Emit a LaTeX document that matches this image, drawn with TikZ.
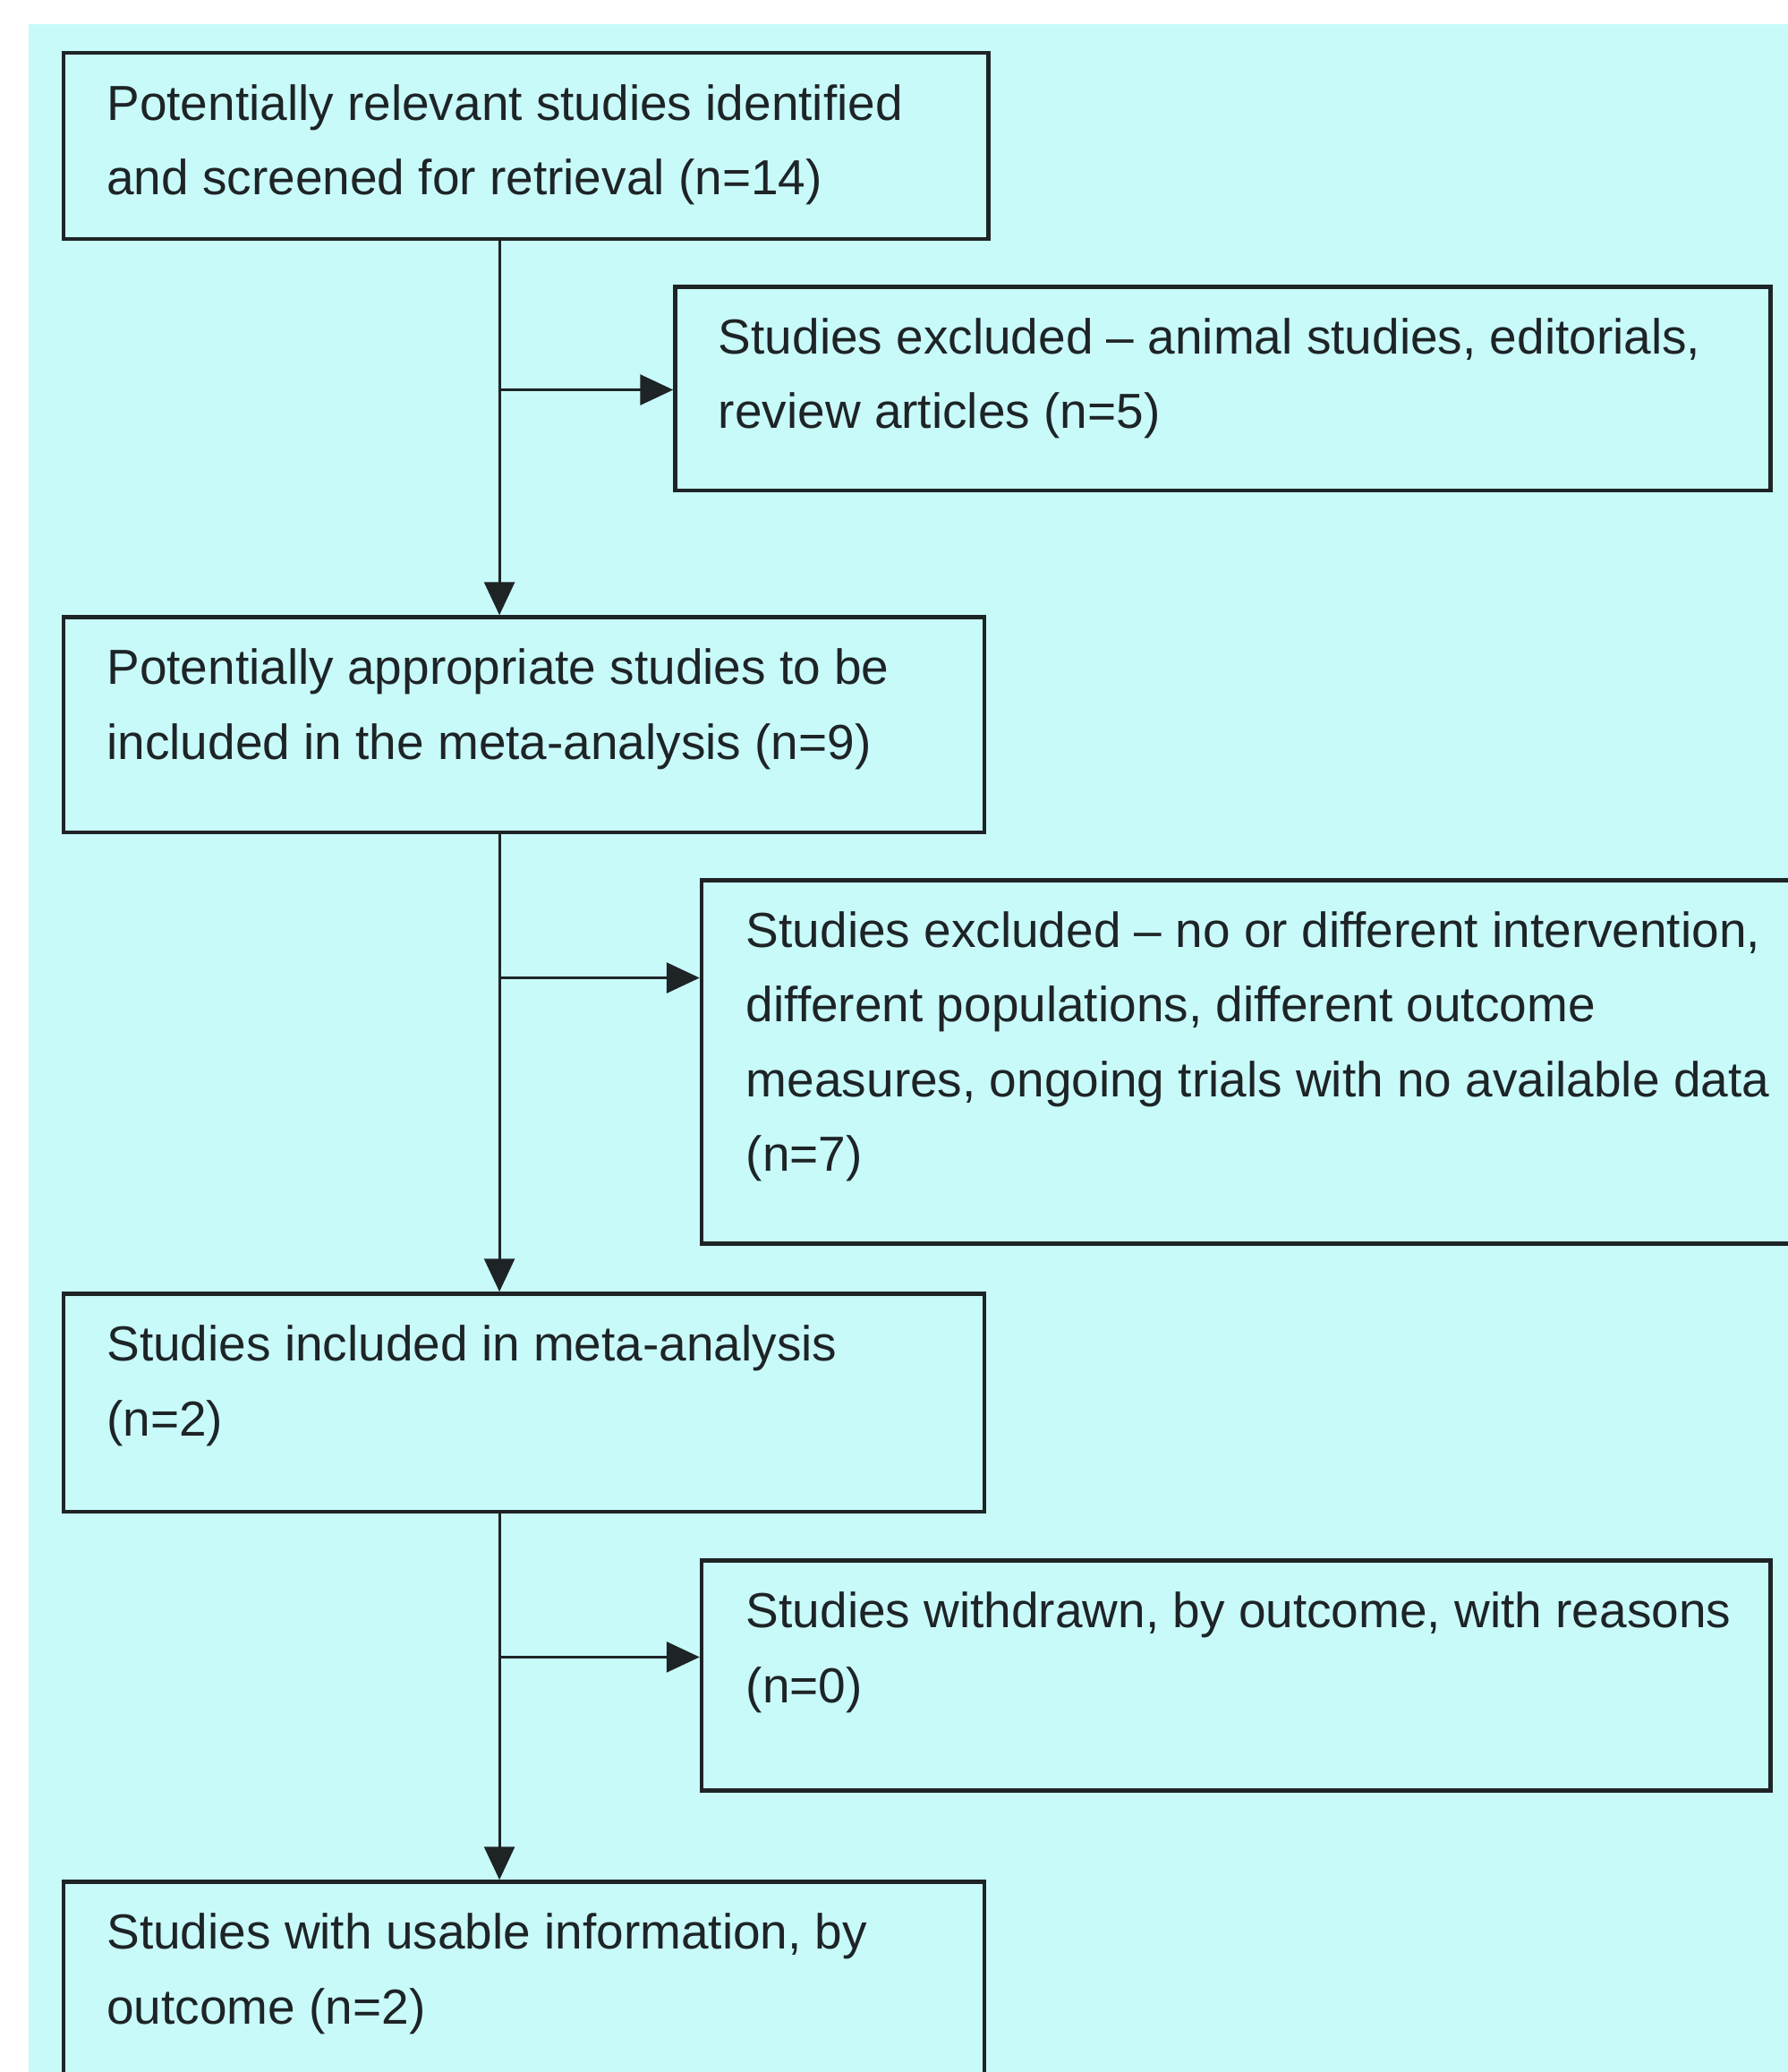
\documentclass[tikz,border=0pt]{standalone}
\usepackage{fontspec}
\setmainfont{Liberation Sans}
\usetikzlibrary{arrows.meta,fit}
\definecolor{bgcyan}{RGB}{200,250,250}
\definecolor{ink}{RGB}{30,36,38}

\begin{document}
\begin{tikzpicture}[x=0.02cm,y=-0.02cm,
  box/.style={draw=ink,line width=1.7pt,inner sep=0pt},
  txt/.style={anchor=north west,inner sep=0pt,align=left,text=ink,
    font=\fontsize{21.2}{32.2}\selectfont},
  flow/.style={draw=ink,line width=1.1pt,-{Triangle[length=0.5cm,width=0.46cm]}}]
  \useasboundingbox (0,0) rectangle (1353,1568);
  \fill[bgcyan] (22,18) rectangle (1400,1600);
  % boxes
  \node[box,fit={(48,40) (748,181)}] (found) {};
  \node[txt] (found-t) at ([shift={(34,25)}]found.north west)
    {Potentially relevant studies identified\\and screened for retrieval (n=14)};
  \node[box,fit={(511,217) (1340,371)}] (excl1) {};
  \node[txt] (excl1-t) at ([shift={(34,25)}]excl1.north west)
    {Studies excluded -- animal studies, editorials,\\review articles (n=5)};
  \node[box,fit={(48,467) (745,630)}] (elig) {};
  \node[txt] (elig-t) at ([shift={(34,25)}]elig.north west)
    {Potentially appropriate studies to be\\included in the meta-analysis (n=9)};
  \node[box,fit={(531,666) (1380,941)}] (excl2) {};
  \node[txt] (excl2-t) at ([shift={(35,25)}]excl2.north west)
    {Studies excluded -- no or different intervention,\\different populations, different outcome\\measures, ongoing trials with no available data\\(n=7)};
  \node[box,fit={(48,979) (745,1144)}] (incl) {};
  \node[txt] (incl-t) at ([shift={(34,25)}]incl.north west)
    {Studies included in meta-analysis\\(n=2)};
  \node[box,fit={(531,1181) (1340,1355)}] (wdrawn) {};
  \node[txt] (wdrawn-t) at ([shift={(35,25)}]wdrawn.north west)
    {Studies withdrawn, by outcome, with reasons\\(n=0)};
  \node[box,fit={(48,1424) (745,1620)}] (usable) {};
  \node[txt] (usable-t) at ([shift={(34,25)}]usable.north west)
    {Studies with usable information, by\\outcome (n=2)};
  % arrows
  \coordinate (j1) at (378,295);
  \coordinate (j2) at (378,740);
  \coordinate (j3) at (378,1254);
  \draw[flow] (found.south -| j1) -- (elig.north -| j1);
  \draw[flow] (elig.south -| j2) -- (incl.north -| j2);
  \draw[flow] (incl.south -| j3) -- (usable.north -| j3);
  \draw[flow] (j1) -- (j1 -| excl1.west);
  \draw[flow] (j2) -- (j2 -| excl2.west);
  \draw[flow] (j3) -- (j3 -| wdrawn.west);
\end{tikzpicture}
\end{document}
